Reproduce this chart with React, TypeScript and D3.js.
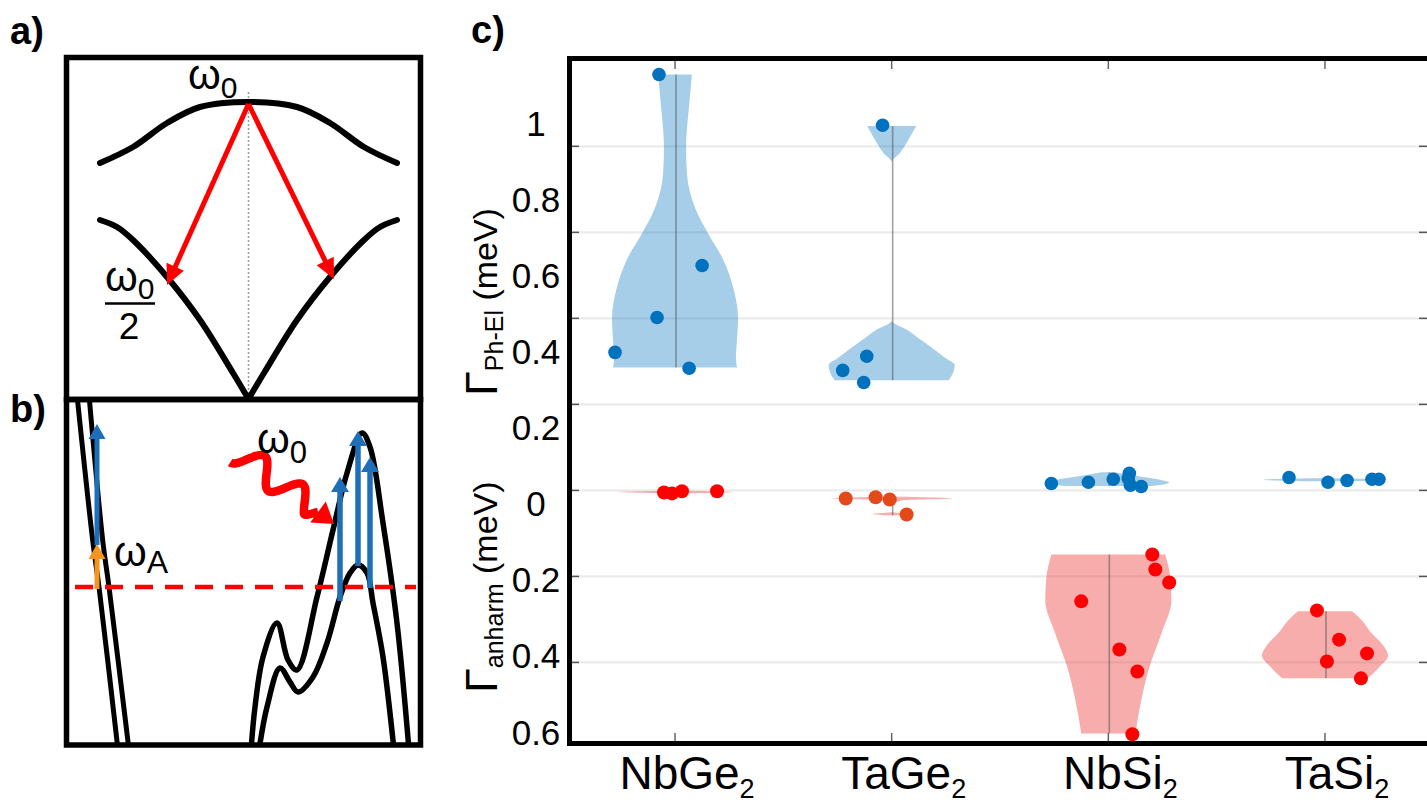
import React from 'react';
import * as d3 from 'd3';

const FONT = "'Liberation Sans', Arial, Helvetica, sans-serif";

// ---------------- Panel c data ----------------
const categories = ['NbGe', 'TaGe', 'NbSi', 'TaSi'];
const categorySubs = ['2', '2', '2', '2'];
const yTickValues = [1, 0.8, 0.6, 0.4, 0.2, 0, -0.2, -0.4, -0.6];
const gridValues = [0.8, 0.6, 0.4, 0.2, 0, -0.2, -0.4];

// sample points: [jitter (category units), value]
const phElNbGe2: [number, number][] = [[-0.074, 0.967], [0.125, 0.523], [-0.083, 0.402], [-0.277, 0.321], [0.065, 0.284]];
const phElTaGe2: [number, number][] = [[-0.042, 0.849], [-0.115, 0.312], [-0.226, 0.279], [-0.129, 0.251]];
const phElNbSi2: [number, number][] = [[-0.263, 0.016], [-0.092, 0.019], [0.023, 0.026], [0.097, 0.040], [0.092, 0.028], [0.102, 0.012], [0.152, 0.009]];
const phElTaSi2: [number, number][] = [[-0.166, 0.030], [0.014, 0.019], [0.102, 0.023], [0.217, 0.026], [0.249, 0.026]];

const anNbGe2: [number, number][] = [[-0.051, -0.005], [-0.014, -0.007], [0.032, -0.002], [0.194, -0.002]];
const anTaGe2: [number, number][] = [[-0.212, -0.019], [-0.074, -0.016], [-0.009, -0.021], [0.069, -0.056]];
const anNbSi2: [number, number][] = [[0.203, -0.149], [0.217, -0.184], [0.281, -0.214], [-0.125, -0.258], [0.051, -0.370], [0.134, -0.421], [0.111, -0.567]];
const anTaSi2: [number, number][] = [[-0.037, -0.279], [0.065, -0.347], [0.194, -0.379], [0.009, -0.398], [0.166, -0.437]];

// violin density profiles: [value, half width (category units)]
const vPhElNbGe2: [number, number][] = [[0.967, 0.078], [0.90, 0.066], [0.798, 0.051], [0.737, 0.055], [0.658, 0.092], [0.598, 0.152], [0.542, 0.217], [0.465, 0.272], [0.400, 0.291], [0.349, 0.286], [0.309, 0.281], [0.286, 0.286]];
const vPhElTaGe2: [number, number][] = [[0.847, 0.113], [0.814, 0.076], [0.784, 0.037], [0.763, 0], [0.395, 0], [0.372, 0.076], [0.349, 0.138], [0.309, 0.245], [0.291, 0.291], [0.272, 0.282], [0.256, 0.263]];
const vPhElNbSi2: [number, number][] = [[0.042, 0.03], [0.036, 0.10], [0.028, 0.2], [0.018, 0.28], [0.010, 0.2]];
const vPhElTaSi2: [number, number][] = [[0.028, 0.05], [0.025, 0.285], [0.021, 0.08]];

const vAnNbGe2: [number, number][] = [[-0.001, 0.05], [-0.004, 0.27], [-0.007, 0.05]];
const vAnTaGe2: [number, number][] = [[-0.015, 0.05], [-0.019, 0.28], [-0.023, 0.05], [-0.035, 0], [-0.050, 0], [-0.055, 0.09], [-0.058, 0.02]];
const vAnNbSi2: [number, number][] = [[-0.149, 0.263], [-0.202, 0.286], [-0.256, 0.291], [-0.333, 0.245], [-0.412, 0.189], [-0.488, 0.152], [-0.565, 0.125]];
const vAnTaSi2: [number, number][] = [[-0.281, 0.125], [-0.300, 0.166], [-0.333, 0.217], [-0.360, 0.268], [-0.384, 0.291], [-0.412, 0.249], [-0.437, 0.198]];

const phElPoints = [phElNbGe2, phElTaGe2, phElNbSi2, phElTaSi2];
const anPoints = [anNbGe2, anTaGe2, anNbSi2, anTaSi2];
const phElViolins = [vPhElNbGe2, vPhElTaGe2, vPhElNbSi2, vPhElTaSi2];
const anViolins = [vAnNbGe2, vAnTaGe2, vAnNbSi2, vAnTaSi2];

const BLUE = '#0072BD';
const RED = '#FF0000';
const anPointColors = ['#FF0000', '#E4491B', '#FF0000', '#FF0000'];

// ---------------- schematic control points ----------------
const aUpperHalf: [number, number][] = [[100, 163], [133, 147], [167, 123], [200, 107], [248.5, 102]];
const aLowerHalf: [number, number][] = [[100, 220], [117, 227], [133, 240], [167, 277], [200, 320], [233, 373], [248.5, 399]];
const bBand1: [number, number][] = [[77, 395], [93, 543], [99, 587], [118, 750]];
const bBand2: [number, number][] = [[89, 395], [103, 543], [109, 587], [129, 750]];
const bOuter: [number, number][] = [[251, 750], [255, 707], [263, 657], [277, 623], [288, 660], [297, 670], [317, 597], [333, 530], [347, 473], [362, 433], [370, 447], [383, 523], [397, 623], [409, 750]];
const bInner: [number, number][] = [[259, 750], [267, 707], [280, 668], [290, 682], [298, 692], [313, 677], [327, 643], [340, 597], [350, 573], [358, 565], [367, 573], [373, 603], [383, 657], [394, 750]];

function Arrow({ x1, y1, x2, y2, color, width, headLen, headW }: any) {
  const dx = x2 - x1, dy = y2 - y1;
  const L = Math.hypot(dx, dy);
  const ux = dx / L, uy = dy / L;
  const bx = x2 - ux * headLen, by = y2 - uy * headLen;
  const nx = -uy, ny = ux;
  return (
    <g>
      <line x1={x1} y1={y1} x2={bx + ux * 1} y2={by + uy * 1} stroke={color} strokeWidth={width} />
      <polygon
        points={`${x2},${y2} ${bx + (nx * headW) / 2},${by + (ny * headW) / 2} ${bx - (nx * headW) / 2},${by - (ny * headW) / 2}`}
        fill={color}
      />
    </g>
  );
}

function Omega({ x, y, sub, size, subSize, dy }: any) {
  return (
    <text x={x} y={y} fontFamily={FONT} fontSize={size} fill="#000">
      ω
      <tspan fontSize={subSize} dy={dy}>{sub}</tspan>
    </text>
  );
}

export default function App() {
  // panel c scales
  const x = d3.scaleLinear().domain([0.5, 4.5]).range([566.7, 1433.3]);
  const y = d3.scaleLinear().domain([-0.585, 1.01]).range([742, 56]);
  const yLabel = d3.scaleLinear().domain([1, -0.6]).range([123, 732]);

  const violinPath = (c: number, prof: [number, number][]) =>
    d3
      .area<[number, number]>()
      .y((d) => y(d[0]))
      .x0((d) => x(c - d[1]))
      .x1((d) => x(c + d[1]))
      .curve(d3.curveMonotoneY)(prof) || '';

  const smooth = d3.line().curve(d3.curveCatmullRom.alpha(0.5));
  const mirror = (pts: [number, number][]) => pts.map(([px, py]) => [497 - px, py] as [number, number]);

  // wavy photon arrow in b
  const wStart = [238, 452], wEnd = [334, 524];
  const wdx = wEnd[0] - wStart[0], wdy = wEnd[1] - wStart[1];
  const wL = Math.hypot(wdx, wdy);
  const wu = [wdx / wL, wdy / wL];
  const wn = [-wu[1], wu[0]];
  const headLen = 20;
  const bodyLen = wL - headLen;
  const wavePts: [number, number][] = [];
  for (let i = 0; i <= 80; i++) {
    const t = (i / 80) * bodyLen;
    const fade = Math.min(1, (bodyLen - t) / 10);
    const a = 13 * Math.sin((t / bodyLen) * Math.PI * 4.2 + Math.PI / 2) * fade;
    wavePts.push([wStart[0] + wu[0] * t + wn[0] * a, wStart[1] + wu[1] * t + wn[1] * a]);
  }
  const wBase = [wStart[0] + wu[0] * bodyLen, wStart[1] + wu[1] * bodyLen];

  const gridColor = '#ebebeb';
  const curveW = 6;
  const blueArrow = '#1F6FB8';

  return (
    <svg width={1427} height={810} style={{ position: 'absolute', left: 0, top: 0, background: '#fff' }}>
      <rect x={0} y={0} width={1427} height={810} fill="#fff" />
      <defs>
        <clipPath id="clipB">
          <rect x={66.5} y={399.5} width={354} height={345.5} />
        </clipPath>
        <clipPath id="clipA">
          <rect x={66.5} y={57.5} width={354} height={342} />
        </clipPath>
      </defs>

      {/* ---------------- Panel a ---------------- */}
      <text x={10} y={44} fontFamily={FONT} fontWeight="bold" fontSize={38}>a)</text>
      <g clipPath="url(#clipA)">
        <line x1={248.5} y1={92} x2={248.5} y2={399} stroke="#9a9a9a" strokeWidth={1.5} strokeDasharray="2 2" />
        <path d={smooth([...aUpperHalf, ...mirror(aUpperHalf.slice(0, -1)).reverse()]) || ''} fill="none" stroke="#000" strokeWidth={curveW} strokeLinecap="round" />
        <path d={smooth(aLowerHalf) || ''} fill="none" stroke="#000" strokeWidth={curveW} strokeLinecap="round" />
        <path d={smooth(mirror(aLowerHalf)) || ''} fill="none" stroke="#000" strokeWidth={curveW} strokeLinecap="round" />
        <Arrow x1={248.5} y1={104} x2={167} y2={285} color={RED} width={5} headLen={20} headW={19} />
        <Arrow x1={248.5} y1={104} x2={334} y2={279} color={RED} width={5} headLen={20} headW={19} />
      </g>
      <Omega x={188} y={89} sub="0" size={42} subSize={30} dy={9} />
      <Omega x={105} y={291} sub="0" size={42} subSize={30} dy={8} />
      <line x1={105} y1={303.5} x2={155} y2={303.5} stroke="#000" strokeWidth={2.5} />
      <text x={129} y={339} textAnchor="middle" fontFamily={FONT} fontSize={37}>2</text>
      <rect x={66.5} y={57.5} width={354} height={342} fill="none" stroke="#000" strokeWidth={5.5} />

      {/* ---------------- Panel b ---------------- */}
      <text x={10} y={422} fontFamily={FONT} fontWeight="bold" fontSize={38}>b)</text>
      <g clipPath="url(#clipB)">
        <path d={smooth(bBand1) || ''} fill="none" stroke="#000" strokeWidth={5} />
        <path d={smooth(bBand2) || ''} fill="none" stroke="#000" strokeWidth={5} />
        <path d={smooth(bOuter) || ''} fill="none" stroke="#000" strokeWidth={5.5} />
        <path d={smooth(bInner) || ''} fill="none" stroke="#000" strokeWidth={5.5} />
        <line x1={75} y1={587} x2={416} y2={587} stroke={RED} strokeWidth={4.5} strokeDasharray="18 12" />
        <Arrow x1={97} y1={589} x2={97} y2={544} color="#F7941D" width={5} headLen={15} headW={17} />
        <Arrow x1={97} y1={545} x2={97} y2={424} color={blueArrow} width={5} headLen={15} headW={17} />
        <Arrow x1={340} y1={601} x2={340} y2={477} color={blueArrow} width={5.5} headLen={15} headW={18} />
        <Arrow x1={358} y1={566} x2={358} y2={431} color={blueArrow} width={5.5} headLen={15} headW={18} />
        <Arrow x1={370} y1={588} x2={370} y2={457} color={blueArrow} width={5.5} headLen={15} headW={18} />
        <path d={d3.line().curve(d3.curveCatmullRom)(wavePts) || ''} fill="none" stroke={RED} strokeWidth={8.5} />
        <polygon
          points={`${wEnd[0]},${wEnd[1]} ${wBase[0] + wn[0] * 13},${wBase[1] + wn[1] * 13} ${wBase[0] - wn[0] * 13},${wBase[1] - wn[1] * 13}`}
          fill={RED}
        />
      </g>
      <Omega x={257} y={453} sub="0" size={42} subSize={31} dy={10} />
      <Omega x={114} y={566} sub="A" size={42} subSize={32} dy={7} />
      <rect x={66.5} y={399.5} width={354} height={345.5} fill="none" stroke="#000" strokeWidth={5.5} />

      {/* ---------------- Panel c ---------------- */}
      <text x={471} y={43} fontFamily={FONT} fontWeight="bold" fontSize={38}>c)</text>

      {gridValues.map((v) => (
        <g key={'g' + v}>
          <line x1={572} x2={1427} y1={y(v)} y2={y(v)} stroke={gridColor} strokeWidth={2.2} />
          <line x1={572} x2={579} y1={y(v)} y2={y(v)} stroke="#555" strokeWidth={1.5} />
          <line x1={1419} x2={1427} y1={y(v)} y2={y(v)} stroke="#555" strokeWidth={1.5} />
        </g>
      ))}
      {categories.map((c, i) => (
        <g key={'t' + c}>
          <line x1={x(i + 1)} x2={x(i + 1)} y1={61} y2={69} stroke="#666" strokeWidth={1.5} />
          <line x1={x(i + 1)} x2={x(i + 1)} y1={733} y2={741} stroke="#666" strokeWidth={1.5} />
        </g>
      ))}

      {/* violins */}
      {phElViolins.map((prof, i) => (
        <path key={'pv' + i} d={violinPath(i + 1, prof)} fill={BLUE} fillOpacity={0.35} />
      ))}
      {anViolins.map((prof, i) => (
        <path key={'av' + i} d={violinPath(i + 1, prof)} fill="#EE3B3B" fillOpacity={0.42} />
      ))}
      {/* whisker lines */}
      {[...phElViolins, ...anViolins].map((prof, k) => {
        const i = k % 4;
        const vals = prof.map((d) => d[0]);
        const lo = d3.min(vals) as number, hi = d3.max(vals) as number;
        if (hi - lo < 0.02) return null;
        return (
          <line key={'w' + k} x1={x(i + 1) + 1} x2={x(i + 1) + 1} y1={y(hi)} y2={y(lo)} stroke="#555" strokeOpacity={0.55} strokeWidth={1.6} />
        );
      })}
      {/* points */}
      {phElPoints.map((pts, i) =>
        pts.map((p, j) => <circle key={`pp${i}-${j}`} cx={x(i + 1 + p[0])} cy={y(p[1])} r={6.8} fill={BLUE} />)
      )}
      {anPoints.map((pts, i) =>
        pts.map((p, j) => <circle key={`ap${i}-${j}`} cx={x(i + 1 + p[0])} cy={y(p[1])} r={7} fill={anPointColors[i]} />)
      )}

      {/* frame */}
      <path d={`M569.5,741 V58.5 H1430`} fill="none" stroke="#000" strokeWidth={5} />
      <line x1={567} x2={1430} y1={743.5} y2={743.5} stroke="#000" strokeWidth={5} />

      {/* y tick labels */}
      {yTickValues.map((v, k) => (
        <text key={'yl' + k} x={536} y={yLabel(v)} dy="0.36em" textAnchor="middle" fontFamily={FONT} fontSize={35}>
          {String(Math.abs(v))}
        </text>
      ))}

      {/* y titles */}
      <text transform="translate(497,396) rotate(-90)" fontFamily={FONT} fontSize={34}>
        <tspan fontSize={45}>Γ</tspan>
        <tspan fontSize={25} dy={6}>Ph-El</tspan>
        <tspan dy={-6}> (meV)</tspan>
      </text>
      <text transform="translate(497,693) rotate(-90)" fontFamily={FONT} fontSize={34}>
        <tspan fontSize={45}>Γ</tspan>
        <tspan fontSize={25} dy={6}>anharm</tspan>
        <tspan dy={-6}> (meV)</tspan>
      </text>

      {/* x labels */}
      {categories.map((c, i) => (
        <text key={'xl' + c} x={x(i + 1) + 12} y={789} textAnchor="middle" fontFamily={FONT} fontSize={46}>
          {c}
          <tspan fontSize={27} dy={9}>{categorySubs[i]}</tspan>
        </text>
      ))}
    </svg>
  );
}
